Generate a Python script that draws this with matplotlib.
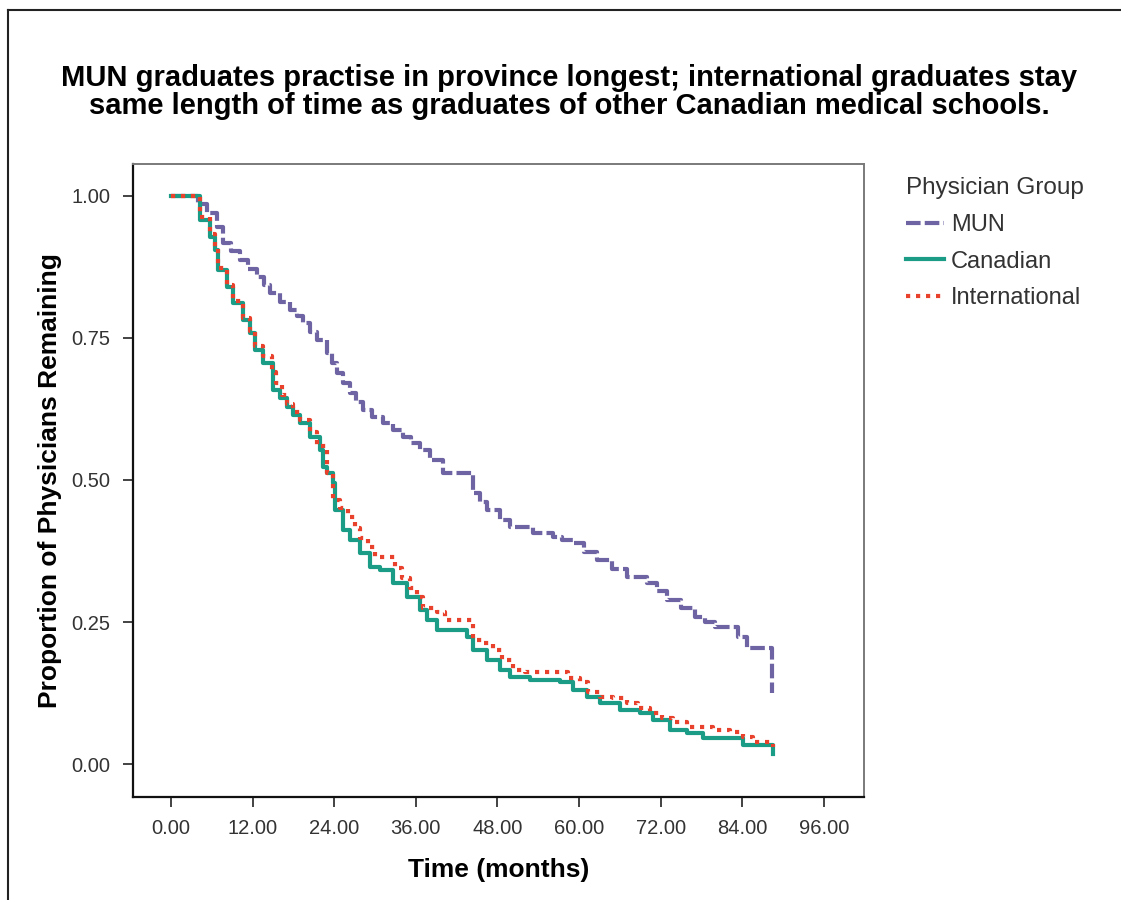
import matplotlib
matplotlib.use("Agg")
import matplotlib.pyplot as plt
from matplotlib.lines import Line2D
import numpy as np

plt.rcParams['font.family'] = ['Liberation Sans', 'DejaVu Sans']

# Kaplan-Meier style step curves (months, proportion)
mun_t = [0, 4.0, 5.3, 6.8, 7.6, 8.8, 10.1, 11.3, 12.6, 13.6,
         14.6, 16.0, 17.5, 18.5, 19.4, 20.5, 21.5, 22.9, 23.6, 24.4,
         25.3, 26.3, 27.2, 28.2, 29.5, 31.2, 32.6, 34.1, 35.3, 36.6,
         38.1, 40.0, 44.4, 45.5, 46.5, 48.4, 49.9, 53.2, 56.2, 57.5,
         59.1, 60.8, 62.6, 64.8, 67.1, 70.0, 71.5, 73.0, 75.0, 77.0,
         78.5, 80.0, 83.4, 84.7, 88.4]
mun_s = [1.0, 0.985, 0.970, 0.945, 0.917, 0.902, 0.887, 0.872, 0.857, 0.843,
         0.829, 0.814, 0.799, 0.788, 0.776, 0.761, 0.746, 0.724, 0.706, 0.688,
         0.670, 0.653, 0.638, 0.623, 0.611, 0.600, 0.588, 0.576, 0.565, 0.553,
         0.535, 0.512, 0.477, 0.462, 0.447, 0.430, 0.417, 0.407, 0.400, 0.395,
         0.389, 0.374, 0.359, 0.344, 0.329, 0.319, 0.304, 0.289, 0.274, 0.259,
         0.250, 0.241, 0.224, 0.204, 0.125]

can_t = [0, 4.3, 5.7, 6.5, 6.9, 8.2, 9.1, 10.6, 11.6, 12.4,
         13.5, 15.0, 16.0, 17.1, 18.0, 19.0, 20.4, 21.9, 22.4, 23.0,
         23.8, 24.1, 25.3, 26.3, 27.8, 29.3, 30.7, 32.6, 34.7, 36.6,
         37.6, 39.1, 43.5, 44.4, 46.5, 48.4, 49.9, 52.8, 57.2, 59.1,
         61.2, 63.1, 66.0, 69.0, 70.9, 73.4, 75.9, 78.2, 84.1, 88.5]
can_s = [1.0, 0.958, 0.928, 0.905, 0.870, 0.840, 0.812, 0.782, 0.759, 0.729,
         0.706, 0.658, 0.644, 0.629, 0.615, 0.600, 0.576, 0.553, 0.523, 0.512,
         0.495, 0.447, 0.412, 0.394, 0.371, 0.347, 0.342, 0.319, 0.294, 0.271,
         0.254, 0.236, 0.224, 0.201, 0.183, 0.165, 0.153, 0.148, 0.144, 0.130,
         0.118, 0.107, 0.095, 0.090, 0.077, 0.060, 0.055, 0.046, 0.033, 0.018]

int_t = [0, 4.3, 5.7, 6.5, 6.9, 8.2, 9.1, 10.6, 11.6, 12.4,
         13.5, 14.8, 15.5, 16.3, 17.1, 18.0, 19.0, 20.4, 21.4, 22.9,
         23.8, 24.9, 26.0, 27.1, 27.8, 29.0, 30.0, 32.9, 34.0, 35.1,
         36.2, 37.1, 39.1, 40.3, 44.4, 45.9, 47.4, 48.7, 50.3, 52.1,
         58.4, 60.1, 61.3, 63.1, 65.0, 67.1, 68.7, 70.4, 72.2, 73.8,
         75.9, 79.7, 82.2, 84.1, 85.6, 88.5]
int_s = [1.0, 0.962, 0.932, 0.908, 0.873, 0.843, 0.815, 0.785, 0.762, 0.735,
         0.718, 0.690, 0.670, 0.650, 0.634, 0.620, 0.605, 0.585, 0.560, 0.512,
         0.465, 0.451, 0.435, 0.415, 0.398, 0.382, 0.364, 0.345, 0.327, 0.310,
         0.294, 0.275, 0.268, 0.254, 0.218, 0.213, 0.201, 0.183, 0.165, 0.162,
         0.151, 0.144, 0.127, 0.118, 0.116, 0.107, 0.099, 0.090, 0.081, 0.074,
         0.065, 0.060, 0.056, 0.048, 0.039, 0.030]

groups = ['MUN', 'Canadian', 'International']
x_ticks = [0, 12, 24, 36, 48, 60, 72, 84, 96]
y_ticks = [0.0, 0.25, 0.5, 0.75, 1.0]

title = ("MUN graduates practise in province longest; international graduates stay\n"
         "same length of time as graduates of other Canadian medical schools.")

fig = plt.figure(figsize=(11.21, 9.0), dpi=100)
ax = fig.add_axes([0.1186, 0.1144, 0.6521, 0.7034])

styles = [
    dict(color='#6f64a3', lw=3.0, linestyle=(0, (3.5, 1.0))),
    dict(color='#1a9c86', lw=3.0, linestyle='-'),
    dict(color='#e8412c', lw=3.0, linestyle=(0, (1, 1.4))),
]
series = [(mun_t, mun_s), (can_t, can_s), (int_t, int_s)]
for (t, s), st, name in zip(series, styles, groups):
    assert len(t) == len(s)
    ax.step(t, s, where='post', label=name, **st)

ax.set_xlim(-5.6, 101.9)
ax.set_ylim(-0.058, 1.056)
ax.set_xticks(x_ticks)
ax.set_xticklabels([f"{v:.2f}" for v in x_ticks])
ax.set_yticks(y_ticks)
ax.set_yticklabels([f"{v:.2f}" for v in y_ticks])
ax.tick_params(direction='out', length=7, width=1.2, colors='#222222',
               labelsize=14.5, pad=9, labelcolor='#333333')

for side in ['top', 'right']:
    ax.spines[side].set_color('#7a7a7a')
    ax.spines[side].set_linewidth(1.4)
for side in ['left', 'bottom']:
    ax.spines[side].set_color('#111111')
    ax.spines[side].set_linewidth(1.6)

ax.set_xlabel('Time (months)', fontsize=19, fontweight='bold', labelpad=14)
ax.set_ylabel('Proportion of Physicians Remaining', fontsize=19,
              fontweight='bold', labelpad=7)

fig.text(0.508, 0.898, title, ha='center', va='center', fontsize=21,
         fontweight='bold', linespacing=1.0)

leg = fig.legend(loc='upper left', bbox_to_anchor=(0.808, 0.803),
                 frameon=False, title='Physician Group', fontsize=17,
                 title_fontsize=17.5, handlelength=1.6, handletextpad=0.3,
                 labelspacing=0.62, borderaxespad=0, borderpad=0)
leg._legend_box.align = 'left'
for txt in leg.get_texts():
    txt.set_color('#333333')
leg.get_title().set_color('#333333')

# outer frame lines (top and left) of the original image
fig.add_artist(Line2D([0.007, 1.0], [0.989, 0.989], color='#222222', lw=1.5))
fig.add_artist(Line2D([0.007, 0.007], [0.0, 0.989], color='#222222', lw=1.5))

fig.savefig('out.png', dpi=100, facecolor='white')
